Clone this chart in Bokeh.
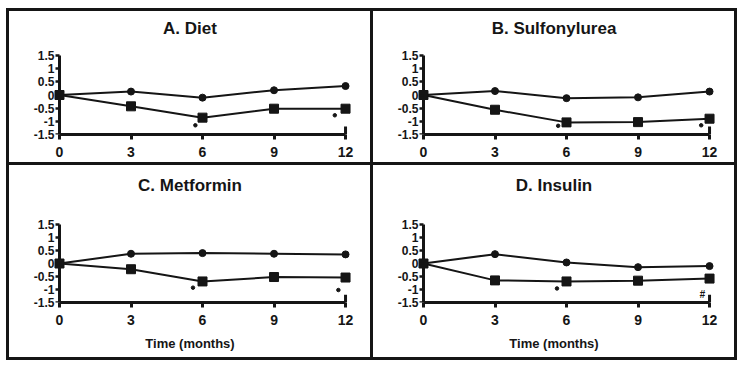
from bokeh.plotting import figure
from bokeh.models import Range1d, FixedTicker, Title, GridBox, LinearAxis, Label
from bokeh.embed import file_html
from bokeh.resources import INLINE
from bokeh.core.properties import value

months = [0, 3, 6, 9, 12]
x_ticks = [0, 3, 6, 9, 12]
y_ticks = [-1.5, -1, -0.5, 0, 0.5, 1, 1.5]
y_tick_labels = ["-1.5", "-1", "-0.5", "0", "0.5", "1", "1.5"]

titles = ["A. Diet", "B. Sulfonylurea", "C. Metformin", "D. Insulin"]
x_title = "Time (months)"

diet_circle = [0, 0.13, -0.10, 0.18, 0.34]
diet_square = [0, -0.43, -0.86, -0.52, -0.52]
diet_sig_x = [5.7, 11.55]
diet_sig_y = [-1.15, -0.77]

sulf_circle = [0, 0.15, -0.12, -0.09, 0.13]
sulf_square = [0, -0.56, -1.04, -1.03, -0.90]
sulf_sig_x = [5.65, 11.65]
sulf_sig_y = [-1.17, -1.15]

metf_circle = [0, 0.375, 0.40, 0.375, 0.35]
metf_square = [0, -0.22, -0.69, -0.52, -0.54]
metf_sig_x = [5.6, 11.7]
metf_sig_y = [-0.93, -1.02]

ins_circle = [0, 0.36, 0.04, -0.14, -0.10]
ins_square = [0, -0.65, -0.69, -0.66, -0.58]
ins_sig_x = [5.6]
ins_sig_y = [-0.96]
ins_hash_x = [11.7]
ins_hash_y = [-1.19]

end_tick_x = [12]
end_tick_y0 = [-1.5]
end_tick_y1 = [-1.2]

INK = "#151515"
FONT = "Liberation Sans"
PANEL_W = 361
FW = 333                 # frame width (centred in the panel)
BORDER = (PANEL_W - FW) // 2
X_LO, X_HI = -1.51, 12.46
PXU = FW / (X_HI - X_LO)
ZERO_OFF = -X_LO * PXU   # px from frame left to x = 0
Y_LO, Y_HI = -1.5, 1.5


def make_panel(title, circ, sq, sx, sy, bottom, hx=None, hy=None):
    plot_h = 78 if bottom else 79          # height of the -1.5..1.5 axis
    top_pad = 59 if bottom else 44          # space above it (title area)
    title_y = 20 if bottom else 17          # title centre from panel top
    fh = plot_h + top_pad
    y_top = Y_HI + top_pad * (Y_HI - Y_LO) / plot_h
    p = figure(
        frame_width=FW,
        frame_height=fh,
        min_border_left=BORDER,
        min_border_right=PANEL_W - FW - BORDER,
        min_border_top=0,
        min_border_bottom=55 if bottom else 28,
        x_range=Range1d(X_LO, X_HI),
        y_range=Range1d(Y_LO, y_top),
        output_backend="svg",
        toolbar_location=None,
        tools="",
        styles={"background-color": "white"},
    )
    p.outline_line_color = None
    p.grid.visible = False
    p.background_fill_color = "white"
    p.border_fill_color = "white"

    p.add_layout(Label(x=FW / 2, y=fh - title_y, x_units="screen", y_units="screen",
                       text=title, text_align="center", text_baseline="middle",
                       text_font=FONT, text_font_size="17px",
                       text_font_style="bold", text_color=INK))

    xa = p.xaxis[0]
    xa.ticker = FixedTicker(ticks=x_ticks)
    xa.bounds = (0, 12)
    xa.axis_line_width = 3
    xa.axis_line_color = INK
    xa.major_tick_line_width = 3
    xa.major_tick_line_color = INK
    xa.major_tick_out = 5
    xa.major_tick_in = 0
    xa.minor_tick_line_color = None
    xa.major_label_standoff = 7
    xa.major_label_text_font = FONT
    xa.major_label_text_font_size = "14px"
    xa.major_label_text_font_style = "bold"
    xa.major_label_text_color = INK

    if bottom:
        p.add_layout(Title(text=x_title, align="center", vertical_align="bottom",
                           standoff=12, text_font=FONT, text_font_size="13px",
                           text_font_style="bold", text_color=INK), "below")

    # y axis line + ticks drawn at x = 0
    ya = p.yaxis[0]
    ya.fixed_location = 0
    ya.bounds = (Y_LO, Y_HI)
    ya.ticker = FixedTicker(ticks=y_ticks)
    ya.major_label_text_font_size = "0px"
    ya.major_label_text_color = None
    ya.axis_line_width = 3
    ya.axis_line_color = INK
    ya.major_tick_line_width = 2.5
    ya.major_tick_line_color = INK
    ya.major_tick_out = 4
    ya.major_tick_in = 0
    ya.minor_tick_line_color = None

    # tick labels for the y axis
    yl = LinearAxis(ticker=FixedTicker(ticks=y_ticks), bounds=(Y_LO, Y_HI))
    yl.major_label_overrides = {v: s for v, s in zip(y_ticks, y_tick_labels)}
    yl.axis_line_color = None
    yl.major_tick_line_color = None
    yl.minor_tick_line_color = None
    yl.major_tick_out = 0
    yl.major_tick_in = 0
    yl.major_label_standoff = -round(ZERO_OFF - 5)
    yl.major_label_text_font = FONT
    yl.major_label_text_font_size = "12px"
    yl.major_label_text_font_style = "bold"
    yl.major_label_text_color = INK
    p.add_layout(yl, "left")

    p.segment(x0=end_tick_x, y0=end_tick_y0, x1=end_tick_x, y1=end_tick_y1,
              line_width=3, line_color=INK)

    p.line(months, circ, line_width=2, line_color=INK)
    p.line(months, sq, line_width=2, line_color=INK)
    p.scatter(months, circ, marker="circle", size=7, fill_color=INK, line_color=INK)
    p.scatter(months, sq, marker="square", size=9, fill_color=INK, line_color=INK)
    p.scatter(sx, sy, marker="circle", size=3.5, fill_color=INK, line_color=INK)
    if hx is not None:
        p.text(hx, hy, text=["#"], text_font=value(FONT), text_font_size="10px",
               text_font_style="bold italic", text_color=INK,
               text_align="center", text_baseline="middle")
    return p


pA = make_panel(titles[0], diet_circle, diet_square, diet_sig_x, diet_sig_y, False)
pB = make_panel(titles[1], sulf_circle, sulf_square, sulf_sig_x, sulf_sig_y, False)
pC = make_panel(titles[2], metf_circle, metf_square, metf_sig_x, metf_sig_y, True)
pD = make_panel(titles[3], ins_circle, ins_square, ins_sig_x, ins_sig_y, True,
                ins_hash_x, ins_hash_y)

grid = GridBox(children=[(pA, 0, 0), (pB, 0, 1), (pC, 1, 0), (pD, 1, 1)],
               spacing=3,
               styles={"background-color": "#151515", "padding": "3px",
                       "margin": "8px 0 0 6px"})

open("out.html", "w").write(file_html(grid, INLINE))
